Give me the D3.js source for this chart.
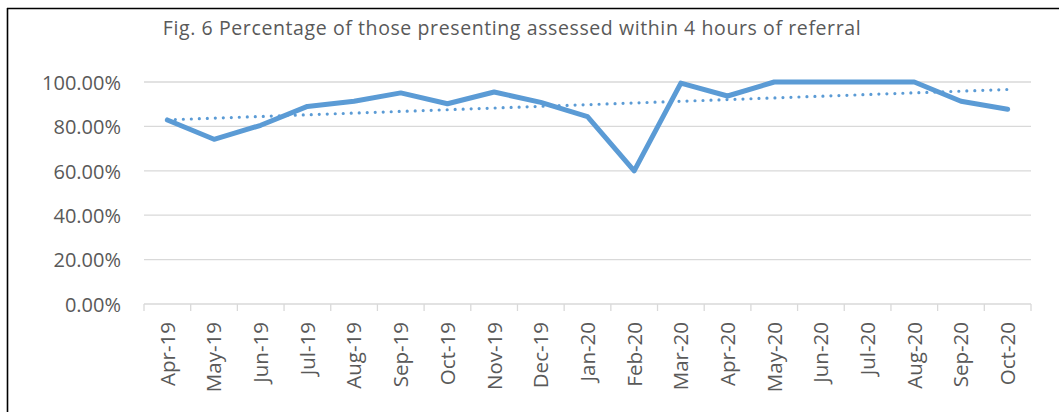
<!DOCTYPE html>
<html>
<head>
<meta charset="utf-8">
<script src="https://cdn.jsdelivr.net/npm/d3@7"></script>
<style>
  body { margin: 0; background: #fff; }
  svg { display: block; font-family: "Open Sans", Lato, sans-serif; }
</style>
</head>
<body>
<svg width="1059" height="412"></svg>
<script>
const title = 'Fig. 6 Percentage of those presenting assessed within 4 hours of referral';
const months = ['Apr-19', 'May-19', 'Jun-19', 'Jul-19', 'Aug-19', 'Sep-19', 'Oct-19', 'Nov-19', 'Dec-19',
    'Jan-20', 'Feb-20', 'Mar-20', 'Apr-20', 'May-20', 'Jun-20', 'Jul-20', 'Aug-20', 'Sep-20', 'Oct-20'];
const assessed = [82.9, 74.2, 80.5, 89.0, 91.3, 95.1, 90.2, 95.5, 90.8,
    84.4, 60.0, 99.5, 93.7, 100, 100, 100, 100, 91.3, 87.7];
const yTicks = [0, 20, 40, 60, 80, 100];

const svg = d3.select('svg');
const margens = { left: 144, right: 28, top: 82, bottom: 108 };
const width = +svg.attr('width');
const height = +svg.attr('height');
const innerWidth = width - margens.left - margens.right;
const innerHeight = height - margens.top - margens.bottom;

// ---- moldura (só topo e esquerda aparecem no recorte)
svg.append('line')
    .attr('x1', 7.5).attr('x2', 7.5).attr('y1', 8).attr('y2', height)
    .style('stroke', '#000').style('stroke-width', 1.6);
svg.append('line')
    .attr('x1', 7).attr('x2', width).attr('y1', 8.5).attr('y2', 8.5)
    .style('stroke', '#000').style('stroke-width', 1.6);

svg.append('text')
    .attr('x', 512)
    .attr('y', 35)
    .attr('text-anchor', 'middle')
    .style('font-size', '19.5px')
    .style('letter-spacing', '0.6px')
    .style('fill', '#595959')
    .text(title);

const g = svg.append('g')
    .attr('transform', `translate(${margens.left}, ${margens.top})`);

// ---- escalas
const mapX = d3.scaleBand().domain(months).range([0, innerWidth]);
const mapY = d3.scaleLinear().domain([0, 100]).range([innerHeight, 0]);
const cx = d => mapX(d) + mapX.bandwidth() / 2;

// ---- grade
g.selectAll('line.grid')
    .data(yTicks.filter(t => t > 0))
    .join('line')
    .attr('class', 'grid')
    .attr('x1', 0).attr('x2', innerWidth)
    .attr('y1', d => mapY(d)).attr('y2', d => mapY(d))
    .style('stroke', '#d9d9d9')
    .style('stroke-width', 1.3);

// ---- eixo Y
const yAxis = d3.axisLeft(mapY).tickValues(yTicks).tickSize(0).tickPadding(23)
    .tickFormat(d => d3.format('.2f')(d) + '%');
const groupY = g.append('g').call(yAxis);
groupY.select('.domain').remove();
groupY.selectAll('text')
    .style('font-size', '20px')
    .style('font-family', '"Open Sans", sans-serif')
    .style('fill', '#595959')
    .attr('dy', '0.36em');

// ---- eixo X (ticks nas fronteiras)
g.append('line')
    .attr('x1', 0).attr('x2', innerWidth)
    .attr('y1', innerHeight).attr('y2', innerHeight)
    .style('stroke', '#d9d9d9')
    .style('stroke-width', 1.3);

g.selectAll('line.tick-x')
    .data(months.map(m => mapX(m)).concat([innerWidth]))
    .join('line')
    .attr('class', 'tick-x')
    .attr('x1', d => d).attr('x2', d => d)
    .attr('y1', innerHeight).attr('y2', innerHeight + 7)
    .style('stroke', '#d9d9d9')
    .style('stroke-width', 1.3);

g.selectAll('text.label-x')
    .data(months)
    .join('text')
    .attr('class', 'label-x')
    .attr('transform', d => `translate(${cx(d)}, ${innerHeight + 18}) rotate(-90)`)
    .attr('text-anchor', 'end')
    .attr('dy', '0.36em')
    .style('font-size', '20.5px')
    .style('fill', '#595959')
    .text(d => d);

// ---- linha de tendência (regressão linear)
const n = assessed.length;
const xm = d3.mean(assessed, (d, i) => i);
const ym = d3.mean(assessed);
const slope = d3.sum(assessed, (d, i) => (i - xm) * (d - ym)) / d3.sum(assessed, (d, i) => (i - xm) ** 2);
const trend = [0, n - 1].map(i => [months[i], ym + slope * (i - xm)]);

g.append('path')
    .datum(trend)
    .attr('d', d3.line().x(d => cx(d[0])).y(d => mapY(d[1])))
    .style('fill', 'none')
    .style('stroke', '#5b9bd5')
    .style('stroke-width', 3.2)
    .style('stroke-linecap', 'round')
    .style('stroke-dasharray', '0 8');

// ---- linha principal
const line = d3.line().x((d, i) => cx(months[i])).y(d => mapY(d));
g.append('path')
    .datum(assessed)
    .attr('d', line)
    .style('fill', 'none')
    .style('stroke', '#5b9bd5')
    .style('stroke-width', 5)
    .style('stroke-linejoin', 'round')
    .style('stroke-linecap', 'round');
</script>
</body>
</html>
